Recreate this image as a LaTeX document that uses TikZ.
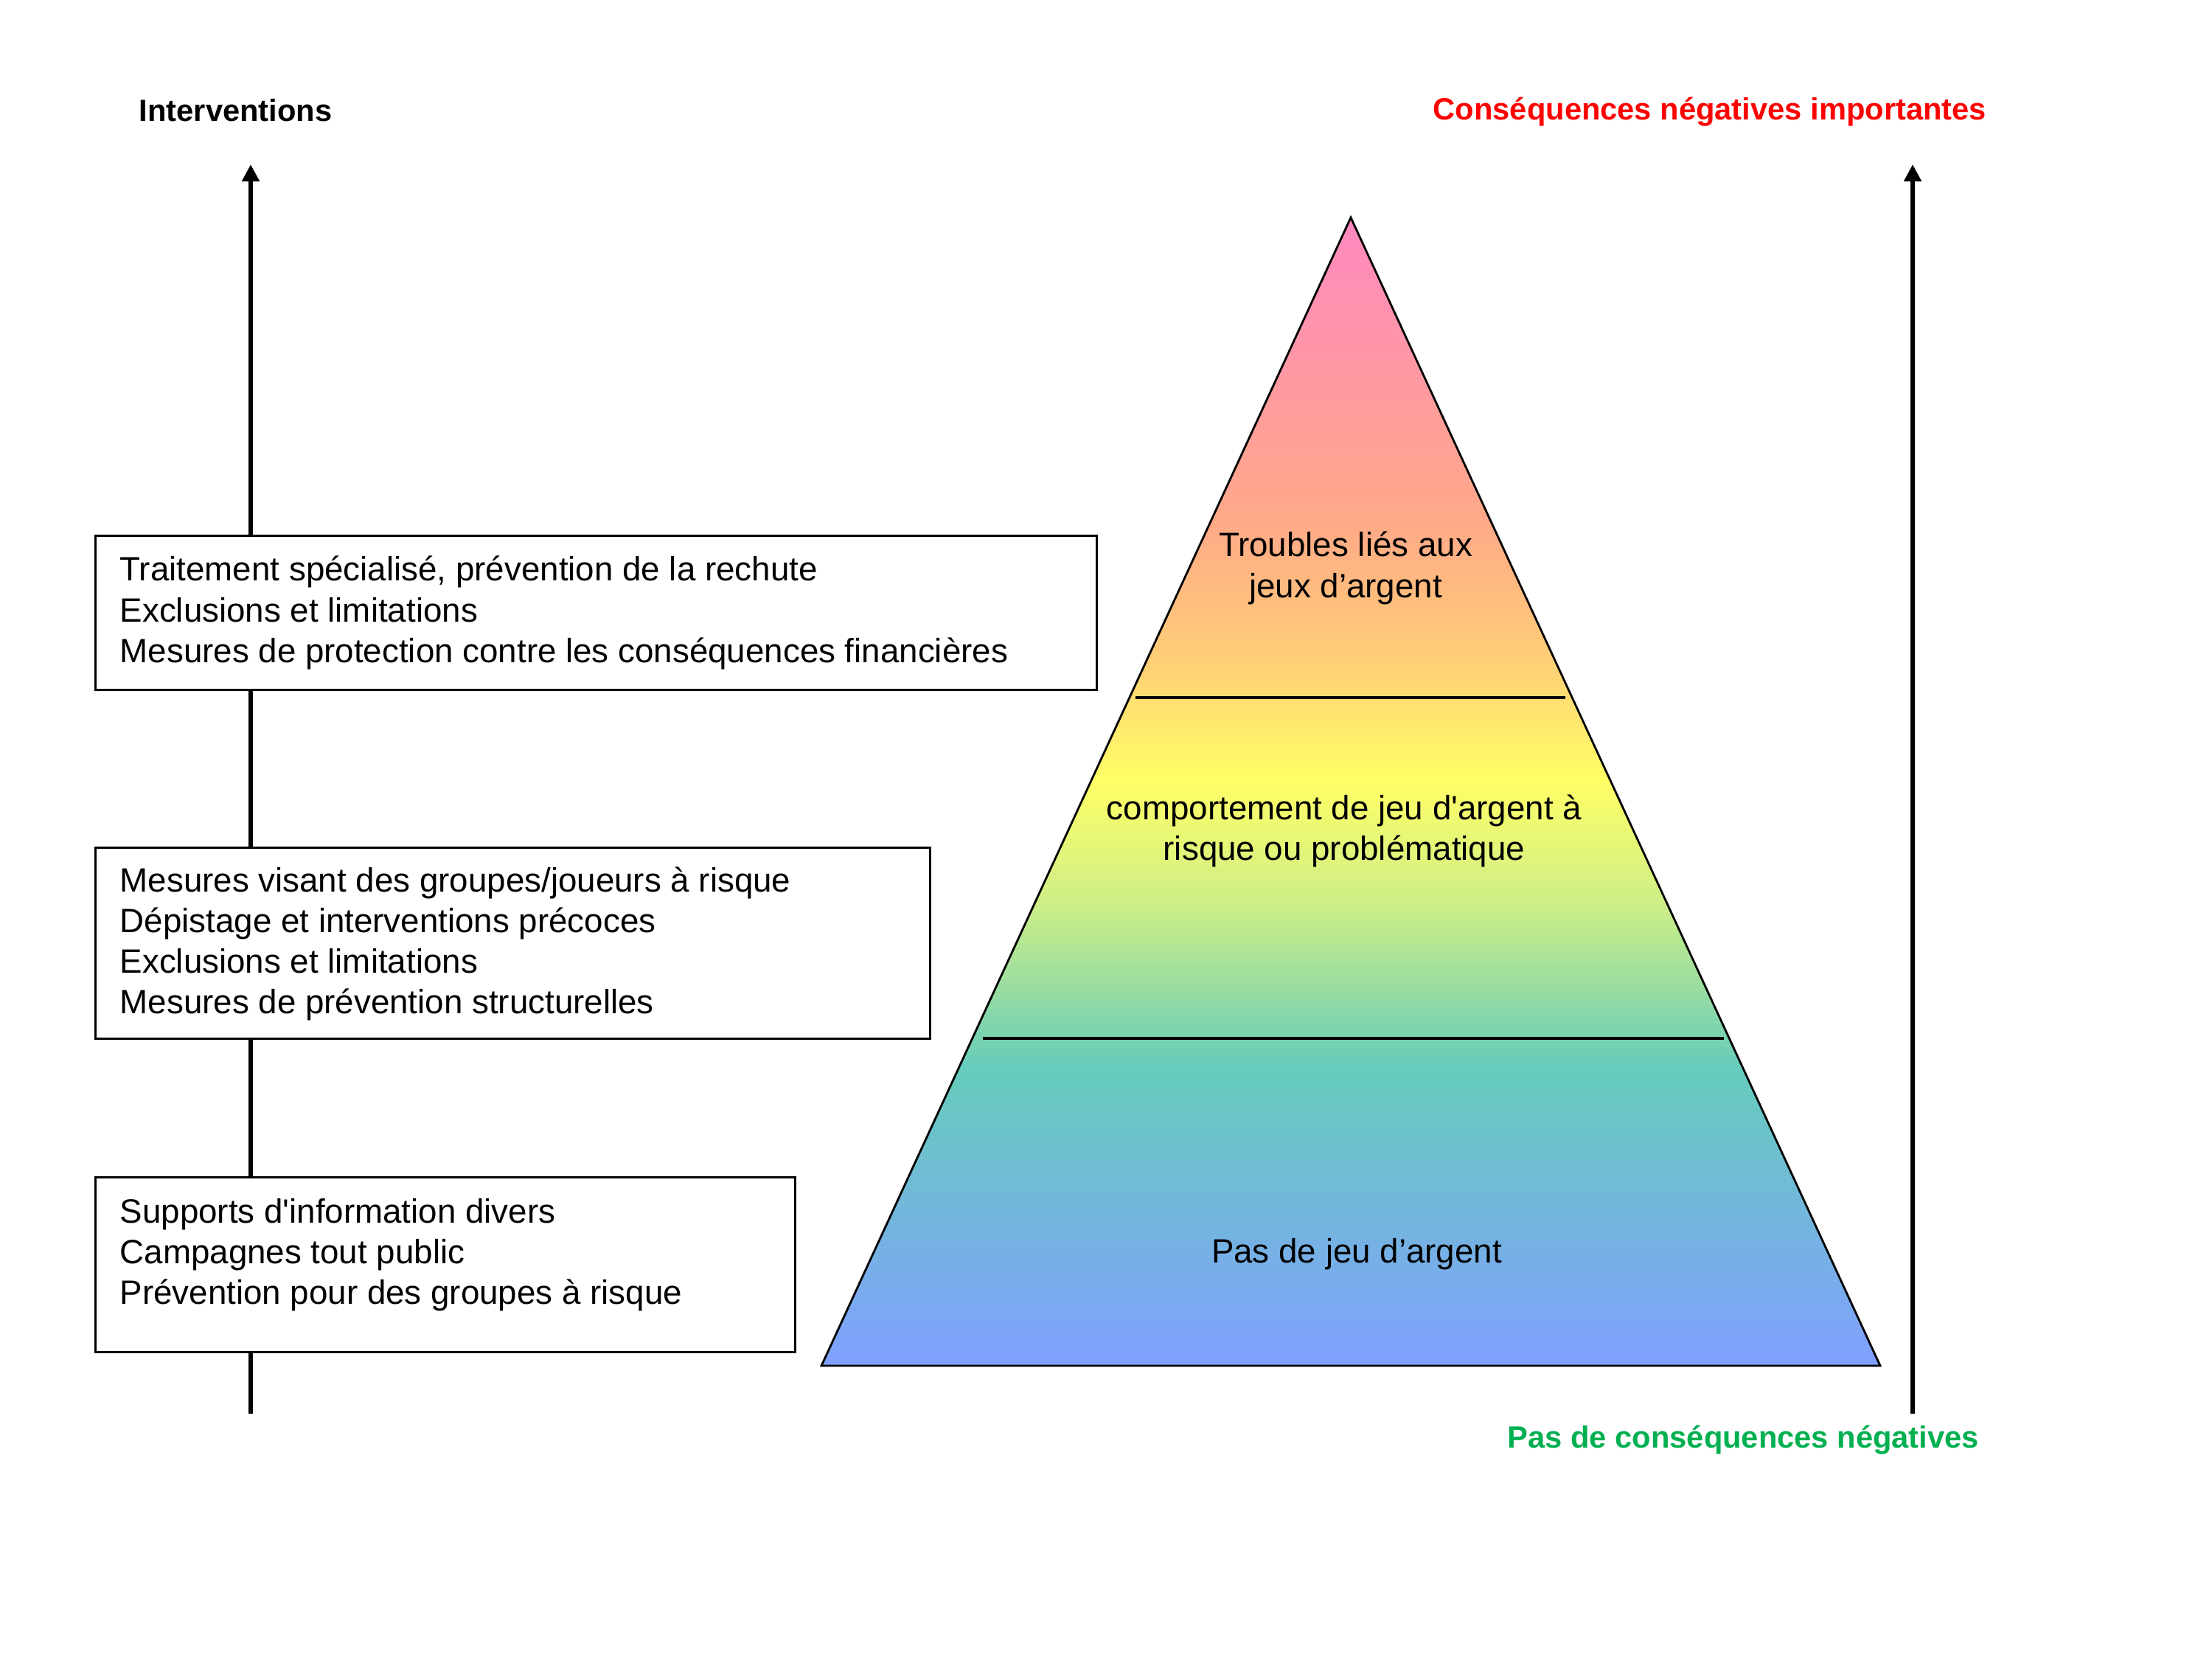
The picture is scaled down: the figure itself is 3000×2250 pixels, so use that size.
\documentclass[tikz,border=0pt]{standalone}
\usepackage{fontspec}
\setmainfont{Liberation Sans}
\usetikzlibrary{arrows.meta}
\definecolor{pPink}{HTML}{FF88C0}
\definecolor{pSalmon}{HTML}{FFA888}
\definecolor{pLOrange}{HTML}{FFCC77}
\definecolor{pYellow}{HTML}{FFFF66}
\definecolor{pGreen}{HTML}{CCEE88}
\definecolor{pTeal}{HTML}{66CCBB}
\definecolor{pBlue}{HTML}{80A0FF}
\definecolor{labRed}{HTML}{FF0000}
\definecolor{labGreen}{HTML}{00B050}
\pgfdeclareverticalshading{pyr}{100bp}{color(0bp)=(pBlue); color(25bp)=(pBlue); color(38bp)=(pTeal); color(45bp)=(pGreen); color(50.5bp)=(pYellow); color(56bp)=(pLOrange); color(62bp)=(pSalmon); color(75bp)=(pPink); color(100bp)=(pPink)}
\newcommand\leftstack[1]{\vtop{\baselineskip=15.65pt\halign{##\hfil\cr#1\crcr}}}
\newcommand\centerstack[1]{\vtop{\baselineskip=15.65pt\halign{\hfil##\hfil\cr#1\crcr}}}
\newcommand\sq{\textquotesingle}
\tikzset{
  axisline/.style={line width=1.5pt, -{Triangle[length=6.5pt,width=6.5pt]}},
  boxshape/.style={draw, line width=0.85pt, fill=white, inner sep=0pt, rectangle},
  boxtext/.style={anchor=base west, inner sep=0pt, font=\fontsize{13}{15.65}\selectfont},
  pyrtext/.style={anchor=base, inner sep=0pt, font=\fontsize{13}{15.65}\selectfont},
  headlabel/.style={anchor=base west, inner sep=0pt, font=\fontsize{11.85}{14}\selectfont\bfseries},
  divider/.style={line width=1pt},
}
\begin{document}
\begin{tikzpicture}[x=0.01cm, y=0.01cm]
\useasboundingbox (0,0) rectangle (3000,2250);

% axes
\coordinate (LB) at (340,333);
\coordinate (LT) at (340,2027);
\coordinate (RB) at (2594,333);
\coordinate (RT) at (2594,2027);
\draw[axisline] (LB) -- (LT);
\draw[axisline] (RB) -- (RT);

% labels
\node[headlabel] (hInt) at (188,2085) {Interventions};
\node[headlabel, text=labRed] (hTop) at (1943,2087) {Conséquences négatives importantes};
\node[headlabel, text=labGreen] (hBot) at (2044,287) {Pas de conséquences négatives};

% boxes
\node[boxshape, minimum width=13.57cm, minimum height=2.08cm] (b1) at (808.5,1419) {};
\node[boxshape, minimum width=11.31cm, minimum height=2.58cm] (b2) at (695.5,971) {};
\node[boxshape, minimum width=9.48cm, minimum height=2.36cm] (b3) at (604,535) {};

\node[boxtext] (t1) at (162,1462) {\leftstack{Traitement spécialisé, prévention de la rechute\cr Exclusions et limitations\cr Mesures de protection contre les conséquences financières}};
\node[boxtext] (t2) at (162,1041) {\leftstack{Mesures visant des groupes/joueurs à risque\cr Dépistage et interventions précoces\cr Exclusions et limitations\cr Mesures de prévention structurelles}};
\node[boxtext] (t3) at (162,592) {\leftstack{Supports d\sq information divers\cr Campagnes tout public\cr Prévention pour des groupes à risque}};

% pyramid
\coordinate (PA) at (1832,1955);
\coordinate (PL) at (1114,398);
\coordinate (PR) at (2550,398);
\shadedraw[shading=pyr, line width=0.8pt, line join=miter] (PA) -- (PL) -- (PR) -- cycle;

\coordinate (D1a) at (1540,1304);
\coordinate (D1b) at (2123,1304);
\coordinate (D2a) at (1333,842);
\coordinate (D2b) at (2338,842);
\draw[divider] (D1a) -- (D1b);
\draw[divider] (D2a) -- (D2b);

\node[pyrtext] (p1) at (1825,1495) {\centerstack{Troubles liés aux\cr jeux d’argent}};
\node[pyrtext] (p2) at (1823,1139) {\centerstack{comportement de jeu d\sq argent à\cr risque ou problématique}};
\node[pyrtext] (p3) at (1840,538) {Pas de jeu d’argent};
\end{tikzpicture}
\end{document}
